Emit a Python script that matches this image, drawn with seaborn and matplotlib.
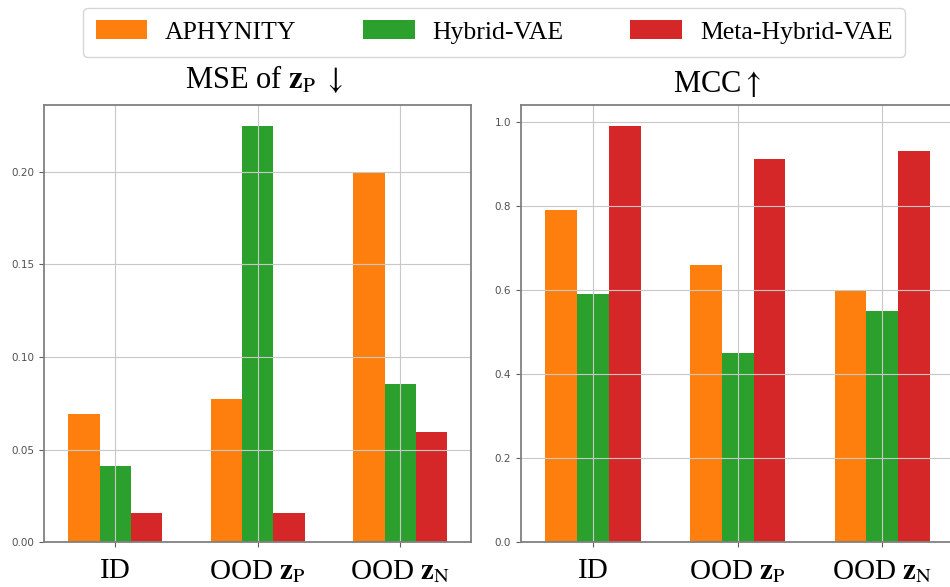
import pandas as pd
import numpy as np
import seaborn as sns
import matplotlib.pyplot as plt

plt.rcParams['mathtext.fontset'] = 'stix'

# data
categories = ['ID', r'OOD $\mathbf{z}_{\mathrm{P}}$', r'OOD $\mathbf{z}_{\mathrm{N}}$']
methods = ['APHYNITY', 'Hybrid-VAE', 'Meta-Hybrid-VAE']
mse_aphynity = [0.0695, 0.0776, 0.200]
mse_hybrid = [0.041, 0.2248, 0.0857]
mse_meta = [0.0156, 0.016, 0.0593]
mcc_aphynity = [0.79, 0.66, 0.60]
mcc_hybrid = [0.59, 0.45, 0.55]
mcc_meta = [0.99, 0.91, 0.93]
colors = ['#ff7f0e', '#2ca02c', '#d62728']


def long_df(a, h, m):
    rows = []
    for vals, meth in zip([a, h, m], methods):
        for c, v in zip(categories, vals):
            rows.append({'cat': c, 'method': meth, 'value': v})
    return pd.DataFrame(rows)


mse_df = long_df(mse_aphynity, mse_hybrid, mse_meta)
mcc_df = long_df(mcc_aphynity, mcc_hybrid, mcc_meta)

fig = plt.figure(figsize=(9.5, 5.87), dpi=100)
ax1 = fig.add_axes([0.0463, 0.0761, 0.450, 0.745])
ax2 = fig.add_axes([0.548, 0.0761, 0.457, 0.745])

for ax, df in [(ax1, mse_df), (ax2, mcc_df)]:
    sns.barplot(data=df, x='cat', y='value', hue='method', order=categories,
                hue_order=methods, palette=colors, width=0.66, saturation=1,
                ax=ax, legend=True)
    ax.set_xlabel('')
    ax.set_ylabel('')
    ax.grid(True, color='#c8c8c8', linewidth=0.8)
    ax.set_xlim(-0.5, 2.5)
    for s in ax.spines.values():
        s.set_color('#808080')
        s.set_linewidth(1.3)
    ax.tick_params(axis='y', labelsize=7.5, colors='#606060', labelcolor='#505050')
    ax.tick_params(axis='x', labelsize=21, colors='#606060', labelcolor='black', pad=8)
    for lab in ax.get_xticklabels():
        lab.set_family('Liberation Serif')

ax1.set_yticks([0.0, 0.05, 0.10, 0.15, 0.20])
ax2.set_yticks([0.0, 0.2, 0.4, 0.6, 0.8, 1.0])

handles, labels = ax1.get_legend_handles_labels()
ax1.get_legend().remove()
ax2.get_legend().remove()
fig.legend(handles, labels, loc='upper center', bbox_to_anchor=(0.52, 0.987), ncol=3,
           prop={'family': 'Liberation Serif', 'size': 18.5}, handlelength=2.0,
           handleheight=0.75, handletextpad=0.7, columnspacing=2.6, borderpad=0.5,
           borderaxespad=0, frameon=True, edgecolor='#cccccc')

fig.text(0.278, 0.8496, r'MSE of $\mathbf{z}_{\mathrm{P}}\ \downarrow$', ha='center', va='baseline',
         fontsize=22, family='Liberation Serif')
fig.text(0.755, 0.843, r'MCC$\uparrow$', ha='center', va='baseline',
         fontsize=22, family='Liberation Serif')

plt.savefig('out.png', dpi=100)
